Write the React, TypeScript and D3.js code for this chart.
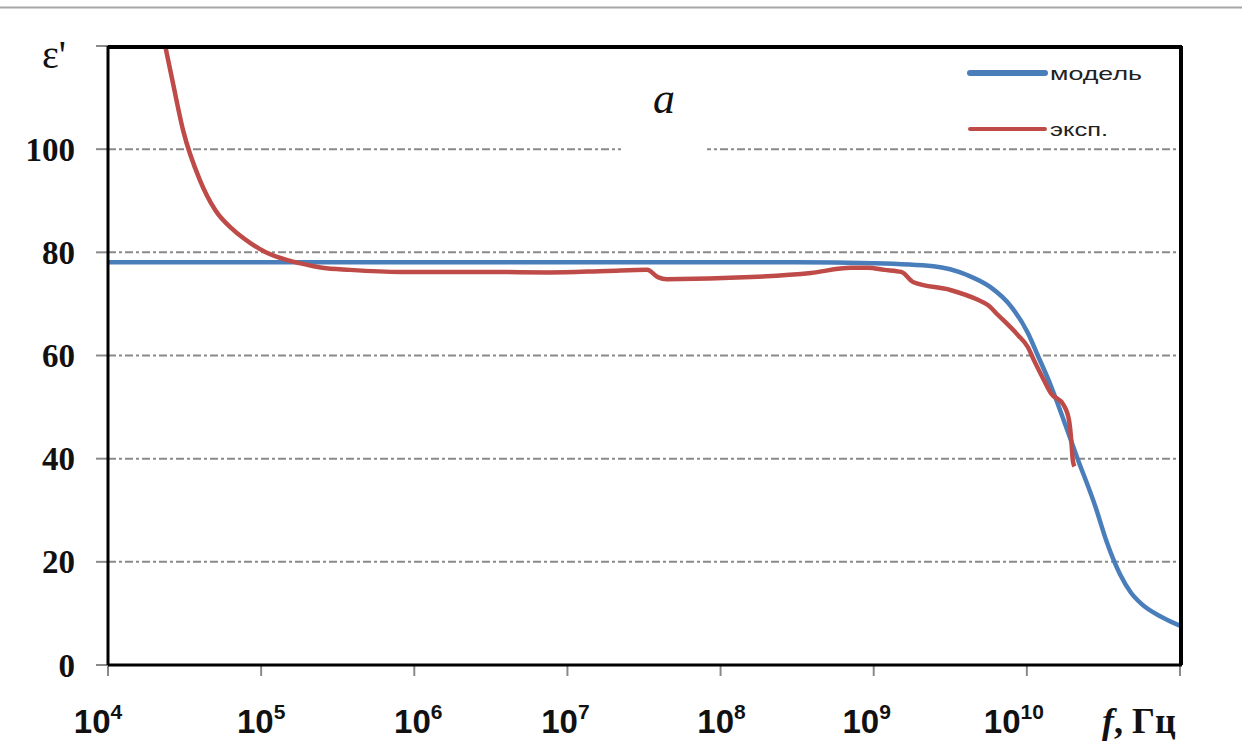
import React from "react";
import * as d3 from "d3";

// ---- data (log10 of frequency in Hz, permittivity ε') ----
const modelLogF = [4, 6, 8, 8.5, 9.0, 9.39, 9.61, 9.76, 9.9, 10.006, 10.07, 10.16, 10.24, 10.33, 10.45, 10.52, 10.61, 10.68, 10.75, 10.88, 11.0];
const modelEps = [78.1, 78.1, 78.1, 78.1, 77.9, 77.3, 75.6, 73.3, 69.4, 64.4, 60.1, 53.9, 47.5, 40.1, 30.5, 24.0, 17.5, 14.0, 11.8, 9.3, 7.6];

const expLogF = [4.37, 4.42, 4.49, 4.6, 4.7, 4.82, 4.93, 5.03, 5.17, 5.25, 5.4, 5.58, 5.91, 6.5, 6.88, 7.26, 7.52, 7.59, 7.65, 8.2, 8.59, 8.85, 8.96, 9.07, 9.18, 9.26, 9.5, 9.68, 9.745, 9.81, 9.94, 10.007, 10.046, 10.11, 10.157, 10.24, 10.275, 10.29, 10.3, 10.31];
const expEps = [120.5, 113.4, 103.7, 94, 88.2, 84.3, 81.8, 80, 78.5, 77.9, 77.0, 76.6, 76.2, 76.2, 76.1, 76.4, 76.6, 75.2, 74.8, 75.2, 76.0, 77.0, 77.0, 76.6, 76.2, 74.2, 72.7, 70.8, 69.8, 67.9, 64, 61.6, 59.1, 55.3, 52.7, 50.4, 47.5, 43.6, 39.7, 38.5];

const xTickExponents = [4, 5, 6, 7, 8, 9, 10, 11];
const xLabelExponents = ["4", "5", "6", "7", "8", "9", "10"];
const yTicks = [0, 20, 40, 60, 80, 100, 120];
const yLabels = ["0", "20", "40", "60", "80", "100"];

const legendLabels = ["модель", "эксп."];
const seriesColors = ["#4a7ebb", "#be4b48"];

export default function App() {
  const W = 1242, H = 744;
  const left = 108, right = 1180, top = 46, bottom = 665;

  const x = d3.scaleLog().domain([1e4, 1e11]).range([left, right]);
  const y = d3.scaleLinear().domain([0, 120]).range([bottom, top]);

  const line = d3
    .line<[number, number]>()
    .x((d) => x(Math.pow(10, d[0])))
    .y((d) => y(d[1]))
    .curve(d3.curveMonotoneX);

  const modelPts: [number, number][] = modelLogF.map((f, i) => [f, modelEps[i]]);
  const expPts: [number, number][] = expLogF.map((f, i) => [f, expEps[i]]);

  const labelDx = [-10, 0, 4, -2, 1, -7, -13];

  return (
    <svg width={W} height={H} style={{ position: "absolute", left: 0, top: 0, background: "#fff" }}>
      <rect x={0} y={0} width={W} height={H} fill="#fff" />
      <line x1={0} x2={W} y1={7.5} y2={7.5} stroke="#a6a6a6" strokeWidth={2} />
      <defs>
        <clipPath id="plotClip">
          <rect x={left} y={top} width={right - left} height={bottom - top} />
        </clipPath>
      </defs>

      {/* gridlines */}
      {yTicks.filter((t) => t > 0 && t < 120).map((t) => (
        <line key={"g" + t} x1={left} x2={right} y1={y(t)} y2={y(t)} stroke="#8a8a8a" strokeWidth={2} strokeDasharray="8,3,3,3" />
      ))}
      {/* white box behind label a */}
      <rect x={621} y={62} width={86} height={100} fill="#fff" />
      <text x={664} y={113} fontFamily="'Liberation Serif', 'Times New Roman', serif" fontStyle="italic" fontSize={44} textAnchor="middle" fill="#111">a</text>

      {/* y ticks */}
      {yTicks.map((t) => (
        <line key={"yt" + t} x1={96} x2={left} y1={y(t)} y2={y(t)} stroke="#8a8a8a" strokeWidth={2} />
      ))}
      {/* x ticks */}
      {xTickExponents.map((e) => (
        <line key={"xt" + e} x1={x(Math.pow(10, e))} x2={x(Math.pow(10, e))} y1={bottom} y2={bottom + 11} stroke="#8a8a8a" strokeWidth={2} />
      ))}

      {/* curves */}
      <g clipPath="url(#plotClip)">
        <path d={line(modelPts) || ""} fill="none" stroke={seriesColors[0]} strokeWidth={4.5} strokeLinejoin="round" />
        <path d={line(expPts) || ""} fill="none" stroke={seriesColors[1]} strokeWidth={4.5} strokeLinejoin="round" />
      </g>

      {/* frame */}
      <line x1={left} x2={left} y1={top} y2={bottom} stroke="#000" strokeWidth={3} />
      <line x1={left} x2={right + 2} y1={bottom} y2={bottom} stroke="#000" strokeWidth={3} />
      <line x1={left} x2={right + 2} y1={top + 1} y2={top + 1} stroke="#000" strokeWidth={4} />
      <line x1={right + 1} x2={right + 1} y1={top} y2={bottom} stroke="#000" strokeWidth={4} />

      {/* y labels */}
      {yLabels.map((l, i) => (
        <text key={"yl" + l} x={75} y={y(yTicks[i])} dy="0.35em" textAnchor="end" fontFamily="'Liberation Serif', 'Times New Roman', serif" fontWeight="bold" fontSize={33} fill="#111">{l}</text>
      ))}
      <text x={54} y={68} textAnchor="middle" fontFamily="'Liberation Serif', 'Times New Roman', serif" fontSize={40} fill="#111">ε'</text>

      {/* x labels */}
      {xLabelExponents.map((e, i) => {
        const cx = x(Math.pow(10, xTickExponents[i])) + labelDx[i];
        return (
          <text key={"xl" + e} x={cx} y={733} textAnchor="middle" fontFamily="'Liberation Sans', Arial, sans-serif" fontWeight="bold" fill="#111" fontSize={33}>
            10<tspan fontSize={21} dy={-14}>{e}</tspan>
          </text>
        );
      })}
      <text x={1102} y={733} fontFamily="'Liberation Serif', 'Times New Roman', serif" fontWeight="bold" fontSize={36} fill="#111">
        <tspan fontStyle="italic">f</tspan>, Гц
      </text>

      {/* legend */}
      {legendLabels.map((l, i) => {
        const ly = i === 0 ? 73 : 129;
        return (
          <g key={"lg" + i}>
            <line x1={970} x2={1045} y1={ly} y2={ly} stroke={seriesColors[i]} strokeWidth={i === 0 ? 6 : 4} strokeLinecap="round" />
            <text x={1050} y={ly} dy="0.35em" fontFamily="'Liberation Sans', Arial, sans-serif" fontSize={19} fill="#222" textLength={i === 0 ? 92 : 58} lengthAdjust="spacingAndGlyphs">{l}</text>
          </g>
        );
      })}
    </svg>
  );
}
